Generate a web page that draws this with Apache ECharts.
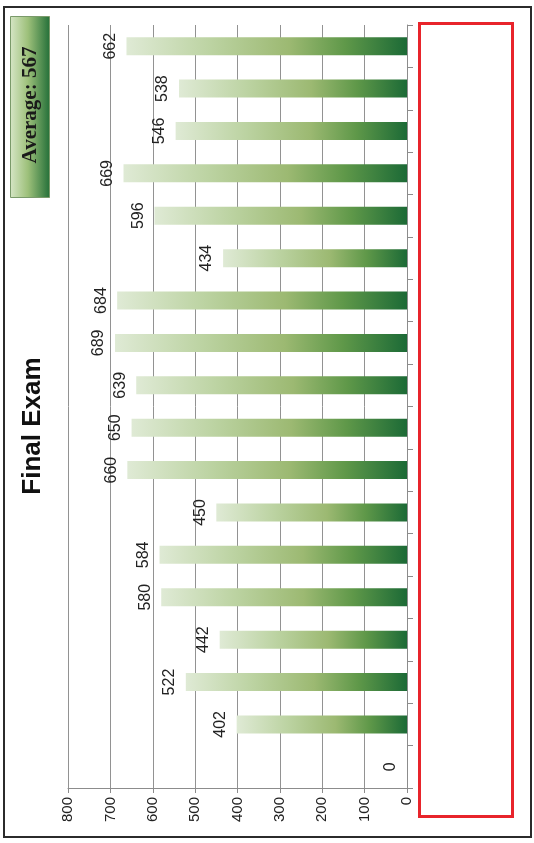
<!DOCTYPE html>
<html>
<head>
<meta charset="utf-8">
<title>Final Exam</title>
<script src="https://cdn.jsdelivr.net/npm/echarts@6/dist/echarts.min.js"></script>
<style>
  html, body { margin: 0; padding: 0; background: #fff; }
  #chart { width: 534px; height: 843px; }
</style>
</head>
<body>
<div id="chart"></div>
<script>
  // categories (labels hidden behind the red box in the reference), first one at the bottom
  var categories = ['1', '2', '3', '4', '5', '6', '7', '8', '9', '10', '11', '12', '13', '14', '15', '16', '17', '18'];
  // exam scores, same order
  var scores = [0, 402, 522, 442, 580, 584, 450, 660, 650, 639, 689, 684, 434, 596, 669, 546, 538, 662];
  var valueTicks = [0, 100, 200, 300, 400, 500, 600, 700, 800];
  var titleText = 'Final Exam';
  var averageText = 'Average: 567';

  var chart = echarts.init(document.getElementById('chart'));

  // bar fill: light at the score end, dark green at the base
  var barFill = new echarts.graphic.LinearGradient(0, 0, 1, 0, [
    { offset: 0, color: '#dfead5' },
    { offset: 0.3, color: '#bcd3a2' },
    { offset: 0.58, color: '#9cb972' },
    { offset: 0.78, color: '#5f9849' },
    { offset: 1, color: '#1c6a36' }
  ]);

  chart.setOption({
    animation: false,
    grid: {
      left: 68,
      right: 127,
      top: 25,
      bottom: 55
    },
    xAxis: {
      type: 'value',
      inverse: true,
      position: 'bottom',
      min: valueTicks[0],
      max: valueTicks[valueTicks.length - 1],
      interval: 100,
      axisLine: { show: true, lineStyle: { color: '#8c8c8c', width: 1 } },
      axisTick: { show: true, length: 5, lineStyle: { color: '#8c8c8c' } },
      axisLabel: {
        rotate: 90,
        margin: 9,
        color: '#222',
        fontFamily: 'Liberation Sans, Arial, sans-serif',
        fontSize: 15
      },
      splitLine: { show: true, lineStyle: { color: '#929292', width: 1 } }
    },
    yAxis: {
      type: 'category',
      position: 'right',
      data: categories,
      axisLine: { show: true, lineStyle: { color: '#8c8c8c', width: 1 } },
      axisTick: { show: true, length: 6, lineStyle: { color: '#8c8c8c' } },
      axisLabel: { show: false },
      splitLine: { show: false }
    },
    series: [{
      type: 'bar',
      data: scores,
      barWidth: 18,
      itemStyle: { color: barFill },
      label: {
        show: true,
        position: 'left',
        distance: 8,
        rotate: 90,
        align: 'center',
        verticalAlign: 'bottom',
        color: '#222',
        fontFamily: 'Liberation Sans, Arial, sans-serif',
        fontSize: 16
      }
    }],
    graphic: [
      {
        type: 'rect',
        z: 0,
        shape: { x: 4, y: 7, width: 527, height: 830 },
        style: { fill: 'none', stroke: '#2b2b2b', lineWidth: 2 }
      },
      {
        type: 'text',
        x: 33,
        y: 426,
        rotation: Math.PI / 2,
        style: {
          text: titleText,
          fill: '#111',
          font: 'bold 26px "Liberation Sans", Arial, sans-serif',
          textAlign: 'center',
          textVerticalAlign: 'middle'
        }
      },
      {
        type: 'rect',
        shape: { x: 10.5, y: 16.5, width: 39, height: 181 },
        style: {
          fill: new echarts.graphic.LinearGradient(0, 0, 1, 0, [
            { offset: 0, color: '#d6e6c6' },
            { offset: 0.45, color: '#9dc07a' },
            { offset: 1, color: '#236f38' }
          ]),
          stroke: '#7a9a6a',
          lineWidth: 1
        }
      },
      {
        type: 'text',
        x: 31,
        y: 105,
        rotation: Math.PI / 2,
        style: {
          text: averageText,
          fill: '#1a1a1a',
          font: 'bold 21px "Liberation Serif", "Times New Roman", serif',
          textAlign: 'center',
          textVerticalAlign: 'middle'
        }
      },
      {
        type: 'rect',
        shape: { x: 419.5, y: 23.5, width: 93, height: 793 },
        style: { fill: '#fff', stroke: '#e8242b', lineWidth: 3 }
      }
    ]
  });
</script>
</body>
</html>
